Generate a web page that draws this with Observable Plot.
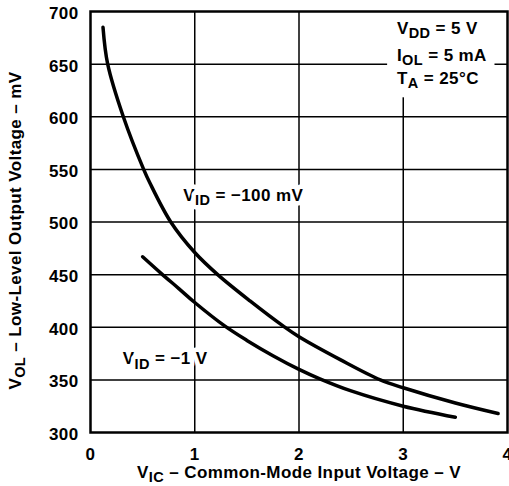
<!DOCTYPE html>
<html>
<head>
<meta charset="utf-8">
<script src="https://cdn.jsdelivr.net/npm/d3@7"></script>
<script src="https://cdn.jsdelivr.net/npm/@observablehq/plot@0.6"></script>
<style>
  html, body { margin: 0; padding: 0; background: white; }
</style>
</head>
<body>
<div id="chart"></div>
<script>
// VID = -100 mV curve
const vic100 = [0.12, 0.165, 0.315, 0.51, 0.57, 0.77, 1.0, 1.22, 1.53, 1.85, 2.0, 2.4, 2.78, 3.0, 3.5, 3.91];
const vol100 = [685, 650, 600, 550, 537, 500, 471, 450, 425, 401, 391, 369, 350, 342.5, 328, 318];
// VID = -1 V curve
const vic1 = [0.5, 0.68, 0.85, 1.0, 1.29, 1.5, 1.75, 2.0, 2.2, 2.5, 3.0, 3.5];
const vol1 = [467, 451, 436.5, 423.5, 401, 387.5, 373, 360, 351, 339.5, 325, 314.5];

const xTicks = [0, 1, 2, 3, 4];
const yTicks = [300, 350, 400, 450, 500, 550, 600, 650, 700];
const xGrid = [1, 2, 3];
const yGrid = [350, 400, 450, 500, 550, 600, 650];

const curveLabels = ["V{ID} = −100 mV", "V{ID} = −1 V"];
const condLabels = ["V{DD} = 5 V", "I{OL} = 5 mA", "T{A} = 25°C"];
const xLabel = "V{IC} – Common-Mode Input Voltage – V";
const yLabel = "V{OL} – Low-Level Output Voltage – mV";

const s100 = vic100.map((x, i) => ({x, y: vol100[i]}));
const s1 = vic1.map((x, i) => ({x, y: vol1[i]}));

const FS = 17;

const plot = Plot.plot({
  width: 509,
  height: 486,
  marginLeft: 90,
  marginRight: 2,
  marginTop: 11,
  marginBottom: 54,
  style: {fontFamily: "'Liberation Sans', Arial, sans-serif", fontSize: FS + "px", fontWeight: "bold", color: "black", background: "white", letterSpacing: "0.4px"},
  x: {domain: [0, 4]},
  y: {domain: [300, 700]},
  marks: [
    Plot.gridX(xGrid, {stroke: "black", strokeOpacity: 1, strokeWidth: 1.5}),
    Plot.gridY(yGrid, {stroke: "black", strokeOpacity: 1, strokeWidth: 1.5}),
    Plot.rect([0], {x1: 2.85, x2: 3.88, y1: 618, y2: 700, fill: "white"}),
    Plot.line(s100, {x: "x", y: "y", curve: "catmull-rom", stroke: "black", strokeWidth: 3.5}),
    Plot.line(s1, {x: "x", y: "y", curve: "catmull-rom", stroke: "black", strokeWidth: 3.5}),
    Plot.text([curveLabels[0]], {x: 0.89, y: 525.6, text: d => d, textAnchor: "start", stroke: "white", strokeWidth: 9, fill: "black", fontSize: FS}),
    Plot.text([curveLabels[1]], {x: 0.31, y: 370, text: d => d, textAnchor: "start", stroke: "white", strokeWidth: 9, fill: "black", fontSize: FS}),
    Plot.text(condLabels, {x: 2.94, y: [684.2, 658.6, 636.7], text: d => d, textAnchor: "start", fill: "black", fontSize: FS}),
    Plot.frame({stroke: "black", strokeWidth: 2.5}),
    Plot.axisX({ticks: xTicks, tickFormat: "d", tickSize: 0, tickPadding: 15, label: null, fontSize: FS}),
    Plot.axisY({ticks: yTicks, tickFormat: "d", tickSize: 0, tickPadding: 12, dy: 2, label: null, fontSize: FS}),
    Plot.text([xLabel], {frameAnchor: "bottom", lineAnchor: "middle", textAnchor: "middle", dy: 40, text: d => d, fill: "black", fontSize: FS}),
    Plot.text([yLabel], {frameAnchor: "left", lineAnchor: "middle", textAnchor: "middle", dx: -75.4, dy: 8.5, rotate: -90, text: d => d, fill: "black", fontSize: FS})
  ]
});

// Turn "X{sub}" markup into real subscript tspans
plot.querySelectorAll("text").forEach(t => {
  const s = t.textContent;
  if (!s.includes("{")) return;
  const parts = s.split(/(\{[^}]*\})/);
  while (t.firstChild) t.removeChild(t.firstChild);
  let shifted = false;
  for (const p of parts) {
    if (!p) continue;
    const ts = document.createElementNS("http://www.w3.org/2000/svg", "tspan");
    if (p.startsWith("{")) {
      ts.textContent = p.slice(1, -1);
      ts.setAttribute("dy", "4.5");
      ts.style.fontSize = "14.5px";
      shifted = true;
    } else {
      ts.textContent = p;
      if (shifted) { ts.setAttribute("dy", "-4.5"); shifted = false; }
    }
    t.appendChild(ts);
  }
});

document.getElementById("chart").appendChild(plot);
</script>
</body>
</html>
